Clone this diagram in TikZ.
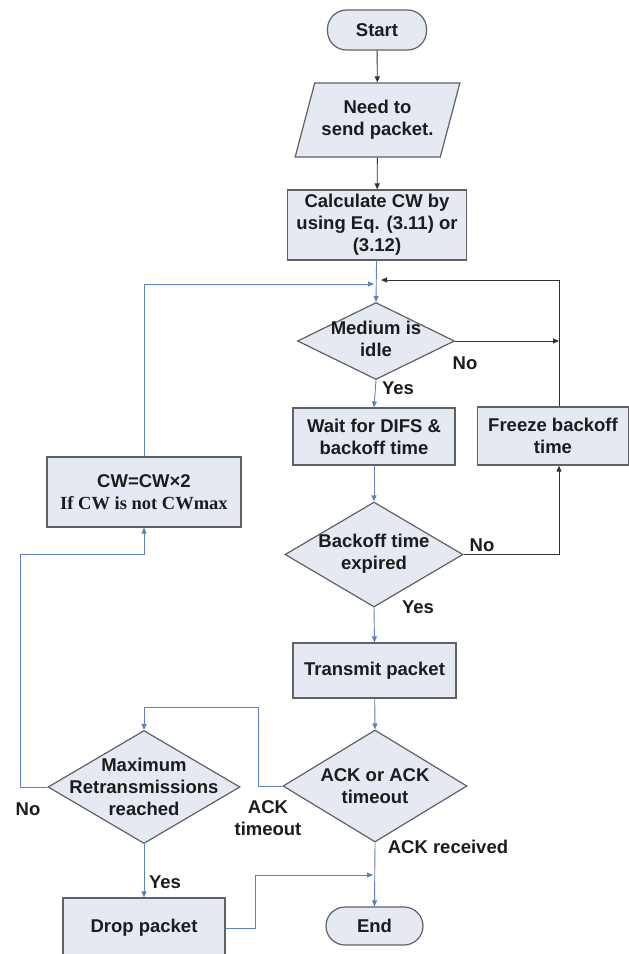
\documentclass[tikz,border=0pt]{standalone}
\usepackage{fontspec}
\setmainfont{Liberation Sans}
\newfontfamily\timesfam{Liberation Serif}
\usetikzlibrary{shapes.geometric,arrows.meta}

\definecolor{boxfill}{HTML}{E4E9F2}
\definecolor{boxedge}{HTML}{5F6166}
\definecolor{flowblue}{HTML}{5A82C4}
\definecolor{ink}{HTML}{1C1C1C}

\tikzset{
  lbl/.style={font=\bfseries\fontsize{18.5}{22}\selectfont, text=ink, align=center, inner sep=0pt},
  shp/.style={draw=boxedge, line width=1.2pt, fill=boxfill, inner sep=0pt},
  proc/.style={shp, rectangle, lbl},
  term/.style={shp, rectangle, rounded corners=19pt, lbl},
  para/.style={shp, trapezium, trapezium left angle=66, trapezium right angle=114,
               trapezium stretches=true, lbl},
  dia/.style={shp, diamond},
  tipk/.style={-{Triangle[length=6pt,width=5pt]}},
  kline/.style={draw=black!80, line width=0.9pt},
  bline/.style={draw=flowblue, line width=0.9pt},
  karrow/.style={kline, tipk},
  barrow/.style={bline, -{Triangle[length=6pt,width=5pt,fill=flowblue]}},
}

\begin{document}
\begin{tikzpicture}[x=1pt,y=-1pt]
\useasboundingbox (0,0) rectangle (629,954);

% process chain down the middle
\node[term, minimum width=99, minimum height=40] (start) at (377,30) {Start};
\node[para, minimum width=165, minimum height=74] (need) at (377.5,120) {Need to\\send packet.};
\node[proc, minimum width=179, minimum height=70] (calc) at (377,225) {Calculate CW by\\using Eq. (3.11) or\\(3.12)};
\node[dia, minimum width=157, minimum height=77] (idle) at (376,341) {};
\node[lbl] (idletxt) at (376,339) {Medium is\\idle};
\node[proc, minimum width=162, minimum height=57] (wait) at (374,436.5) {Wait for DIFS \&\\backoff time};
\node[proc, minimum width=151, minimum height=58] (freeze) at (553,436) {Freeze backoff\\time};
\node[dia, minimum width=178, minimum height=105] (boff) at (374,554.5) {};
\node[lbl] (bofftxt) at (374,554) {Backoff time\\expired};
\node[proc, minimum width=163, minimum height=55] (tx) at (374.5,670.5) {Transmit packet};
\node[dia, minimum width=184, minimum height=112] (ack) at (375,786) {};
\node[lbl] (acktxt) at (375,786) {ACK or ACK\\timeout};
\node[dia, minimum width=192, minimum height=113] (max) at (144,787) {};
\node[lbl] (maxtxt) at (144,787) {Maximum\\Retransmissions\\reached};
\node[proc, minimum width=194, minimum height=70] (cw) at (144,492)
  {CW=CW×2\\{\timesfam\bfseries If CW is not CWmax}};
\node[proc, minimum width=162, minimum height=60] (drop) at (144,928) {Drop packet};
\node[term, minimum width=97, minimum height=38] (end) at (374.5,926) {End};

% junction points
\coordinate (mk) at (381,280);
\coordinate (mb) at (374,284);
\coordinate (fr) at (559,280);
\coordinate (tmo) at (258,707);
\coordinate (lft) at (20,554);
\coordinate (dj) at (373,875);
\coordinate (dc) at (255,875);

% black connectors
\draw[karrow] (start) -- (need);
\draw[karrow] (need) -- (calc);
\draw[karrow] (idle.east) -- (idle.east -| fr);
\draw[karrow] (freeze.north -| fr) |- (mk);
\draw[karrow] (boff.east) -| (freeze.south -| fr);

% blue connectors
\draw[barrow] (calc) -- (idle.north);
\draw[barrow] (cw.north) |- (mb);
\draw[barrow] (idle.south) -- (wait.north);
\draw[barrow] (wait) -- (boff.north);
\draw[barrow] (boff.south) -- (tx.north);
\draw[barrow] (tx) -- (ack.north);
\draw[barrow] (ack.west) -| (tmo) -| (max.north);
\draw[barrow] (max.west) -| (lft) -| (cw.south);
\draw[barrow] (max.south) -- (drop.north);
\draw[barrow] (drop.east) -| (dc) -- (dj);
\draw[barrow] (ack.south) -- (end.north);

% branch labels
\node[lbl] (l1) at (465,363) {No};
\node[lbl] (l2) at (398,388) {Yes};
\node[lbl] (l3) at (482,545) {No};
\node[lbl] (l4) at (418,607) {Yes};
\node[lbl] (l5) at (268,818) {ACK\\timeout};
\node[lbl] (l6) at (28,809) {No};
\node[lbl] (l7) at (165,882) {Yes};
\node[lbl] (l8) at (448,847) {ACK received};
\end{tikzpicture}
\end{document}
